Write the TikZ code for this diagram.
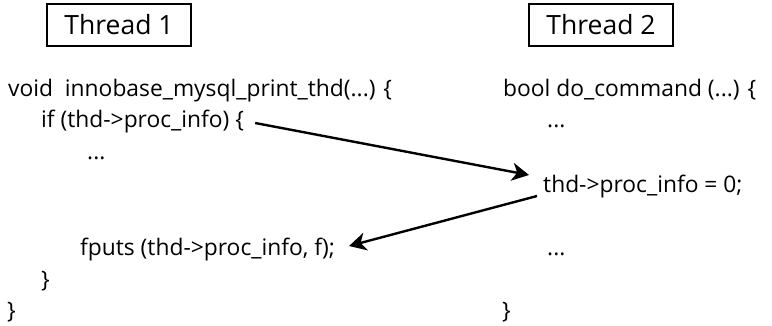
\documentclass[tikz,border=0pt]{standalone}
\usepackage{fontspec}
\setmainfont{Open Sans}
\usetikzlibrary{arrows.meta}
\begin{document}
\begin{tikzpicture}[x=1pt,y=-1pt,
  code/.style={anchor=base west,inner sep=0pt,font=\fontsize{22.8}{27}\selectfont},
  thread/.style={draw,line width=1.8pt,minimum width=144pt,minimum height=42pt,inner sep=0pt,font=\fontsize{26.5}{31}\selectfont},
  arr/.style={line width=2.4pt,-{Stealth[length=17pt,width=18pt,inset=5pt]}}]
\useasboundingbox (0,0) rectangle (772,325);
\node[thread] (t1) at (119,25) {Thread 1};
\node[thread] (t2) at (601,25) {Thread 2};
% left column
\node[code] (l0) at (8,96) {void\ \ innobase\_mysql\_print\_thd(...) \{};
\node[code] (l1) at (41,127) {if (thd->proc\_info) \{};
\node[code] (l2) at (87,159) {...};
\node[code] (l3) at (80,255) {fputs (thd->proc\_info, f);};
\node[code] (l4) at (41,287) {\}};
\node[code] (l5) at (7,318) {\}};
% right column
\node[code] (r0) at (503,96) {bool do\_command (...) \{};
\node[code] (r1) at (547,127) {...};
\node[code] (r2) at (543,192) {thd->proc\_info = 0;};
\node[code] (r3) at (547,255) {...};
\node[code] (r4) at (502,318) {\}};
% connectors
\coordinate (a1s) at ([shift={(11,-4)}]l1.base east);
\coordinate (a1e) at ([shift={(-14,-17)}]r2.base west);
\coordinate (a2s) at ([shift={(-6,4)}]r2.base west);
\coordinate (a2e) at ([shift={(14,-9)}]l3.base east);
\draw[arr] (a1s) -- (a1e);
\draw[arr] (a2s) -- (a2e);
\end{tikzpicture}
\end{document}
